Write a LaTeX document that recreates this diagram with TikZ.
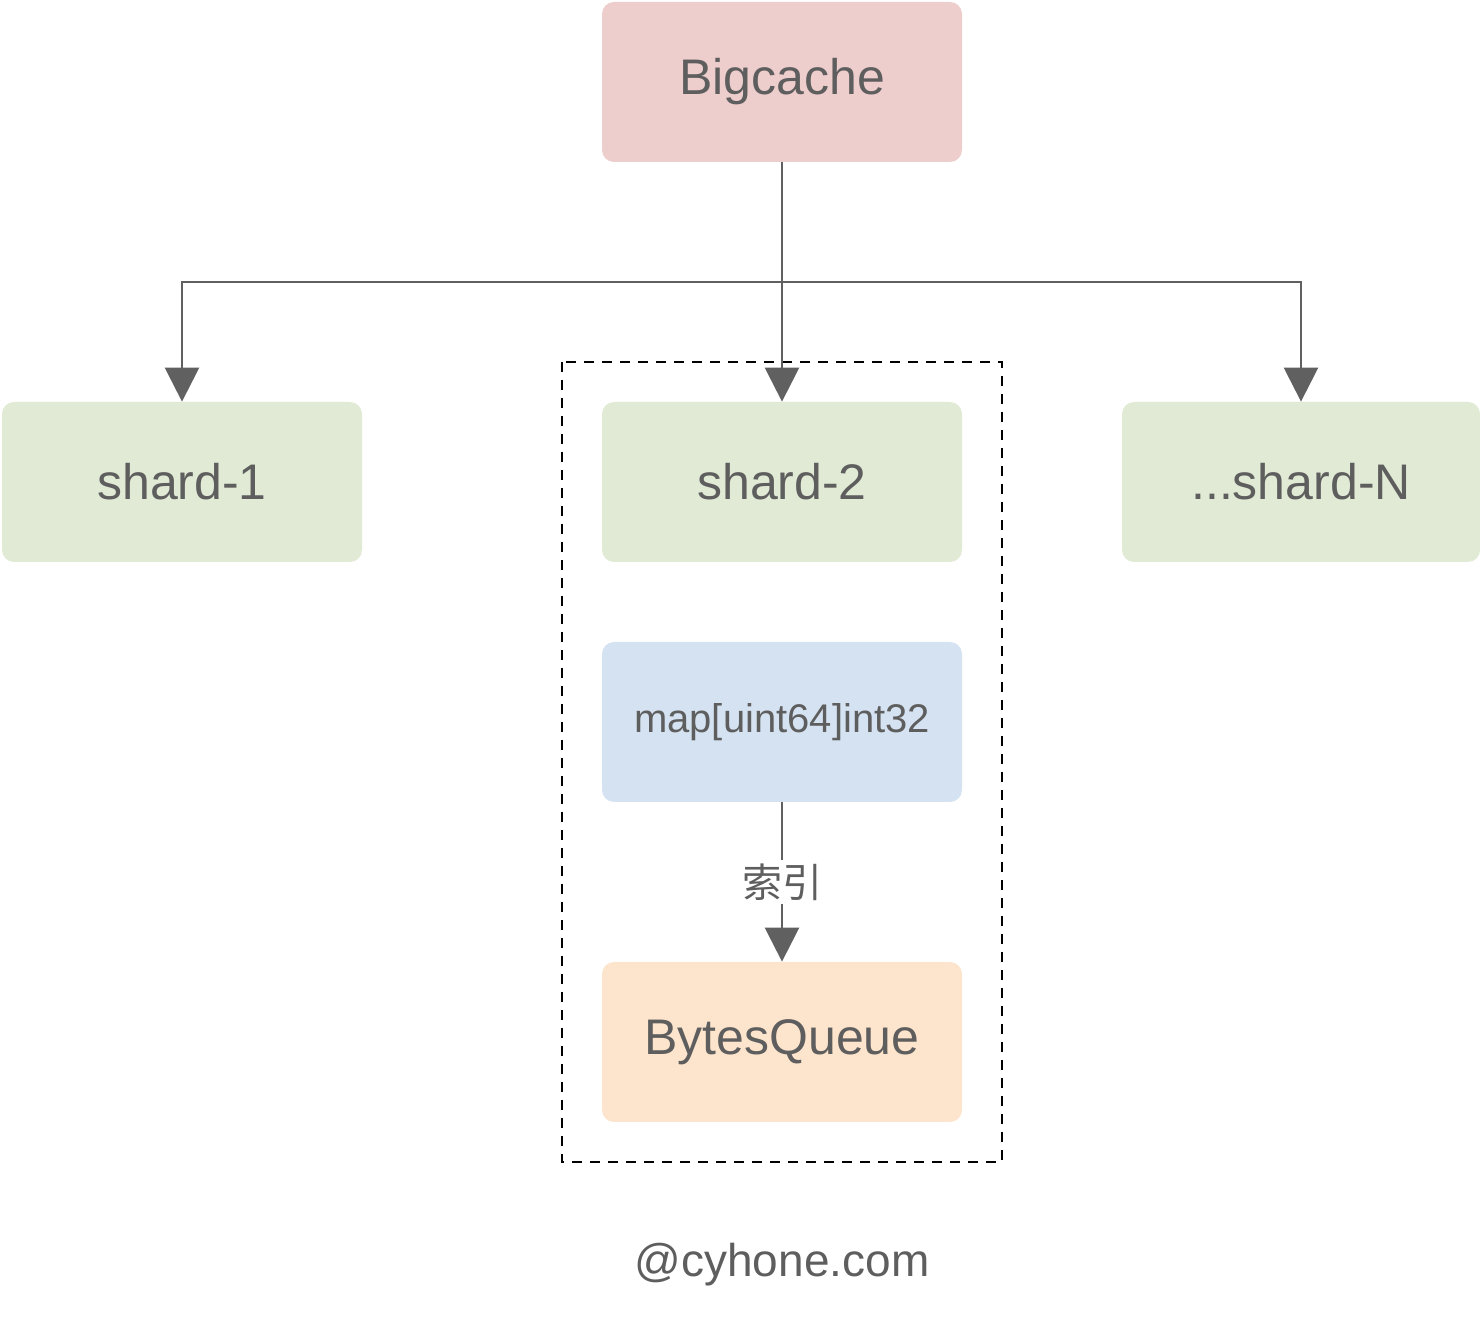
\documentclass[tikz,border=0pt]{standalone}
\usepackage{fontspec}
\setmainfont{Liberation Sans}
\newfontfamily\cjk{Noto Sans CJK SC}
\usetikzlibrary{arrows.meta, positioning}
\definecolor{rootfill}{HTML}{EECDCD}
\definecolor{shardfill}{HTML}{E0EAD5}
\definecolor{mapfill}{HTML}{D4E2F1}
\definecolor{queuefill}{HTML}{FDE5CD}
\definecolor{txt}{HTML}{5E5E5E}
\definecolor{wire}{HTML}{606060}

\begin{document}
\begin{tikzpicture}[
    x=0.5pt, y=-0.5pt,
    box/.style={rectangle, rounded corners=6pt, draw=none, minimum width=180pt,
                minimum height=80pt, align=center, text=txt, font=\fontsize{25}{30}\selectfont},
    link/.style={-{Triangle[width=17pt, length=17pt]}, line width=1.3pt, draw=wire}
]
\useasboundingbox (0,0) rectangle (1480,1320);

% Top level
\node[box, fill=rootfill] (cache) at (782,82) {Bigcache};

% Shards
\node[box, fill=shardfill] (shard1) at (182,482) {shard-1};
\node[box, fill=shardfill] (shard2) at (782,482) {shard-2};
\node[box, fill=shardfill, minimum width=179pt] (shardN) at (1301,482) {...shard-N};

% Inside shard-2
\node[box, fill=mapfill, font=\fontsize{20}{24}\selectfont] (index) at (782,722) {map[uint64]int32};
\node[box, fill=queuefill] (queue) at (782,1042) {BytesQueue};
\coordinate (groupNW) at (562,362);
\coordinate (groupSE) at (1002,1162);
\draw[dashed, line width=1.3pt, dash pattern=on 5pt off 4pt] (groupNW) rectangle (groupSE);

% Connectors
\coordinate (split) at (782,282);
\draw[line width=1.3pt, wire] (cache.south) -- (split);
\draw[link] (split) -- (shard2.north);
\draw[link] (split) -| (shard1.north);
\draw[link] (split) -| (shardN.north);
\draw[link] (index.south) -- node[fill=white, text=txt, inner sep=2pt, font=\cjk\fontsize{20}{24}\selectfont] {索引} (queue.north);

% Watermark
\node[text=txt, font=\fontsize{23}{28}\selectfont] (mark) at (782,1265) {@cyhone.com};
\end{tikzpicture}
\end{document}
